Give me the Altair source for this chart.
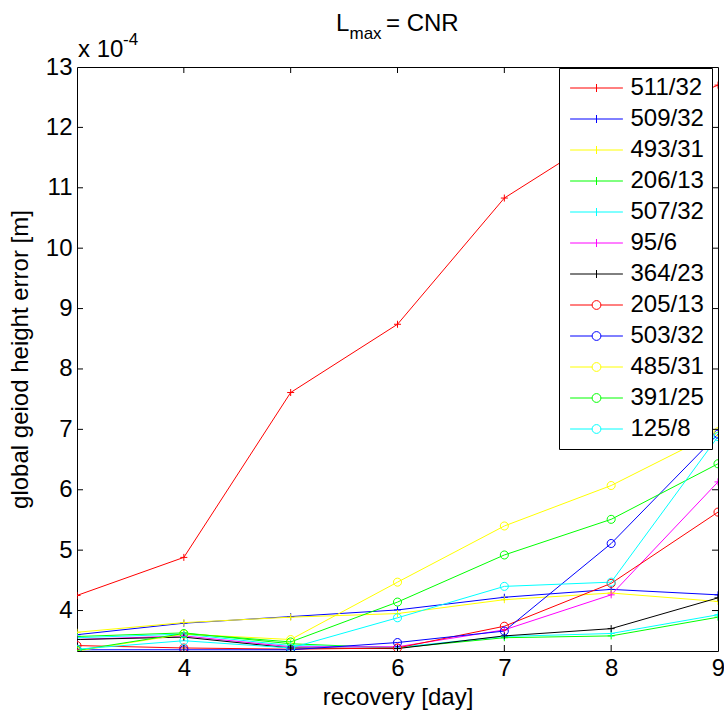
import altair as alt
import pandas as pd

# ---------------- data (values in units of 1e-4 m) ----------------
days = [3, 4, 5, 6, 7, 8, 9]
series_names = ["511/32", "509/32", "493/31", "206/13", "507/32", "95/6", "364/23",
                "205/13", "503/32", "485/31", "391/25", "125/8"]
series_colors = ["#ff0000", "#0000ff", "#ffff00", "#00ff00", "#00ffff", "#ff00ff", "#000000",
                 "#ff0000", "#0000ff", "#ffff00", "#00ff00", "#00ffff"]
series_markers = ["+", "+", "+", "+", "+", "+", "+", "o", "o", "o", "o", "o"]

s511_32 = [4.25, 4.88, 7.61, 8.74, 10.83, 11.95, 12.70]
s509_32 = [3.60, 3.79, 3.90, 4.01, 4.22, 4.35, 4.26]
s493_31 = [3.64, 3.80, 3.89, 3.95, 4.18, 4.29, 4.15]
s206_13 = [3.57, 3.63, 3.45, 3.38, 3.55, 3.58, 3.89]
s507_32 = [3.55, 3.61, 3.42, 3.39, 3.57, 3.62, 3.93]
s95_6 = [3.52, 3.58, 3.40, 3.40, 3.68, 4.26, 6.13]
s364_23 = [3.52, 3.56, 3.38, 3.37, 3.58, 3.70, 4.21]
s205_13 = [3.42, 3.38, 3.36, 3.38, 3.74, 4.45, 5.63]
s503_32 = [3.35, 3.35, 3.35, 3.47, 3.66, 5.11, 6.92]
s485_31 = [3.33, 3.61, 3.52, 4.47, 5.40, 6.07, 6.96]
s391_25 = [3.34, 3.62, 3.48, 4.14, 4.92, 5.51, 6.43]
s125_8 = [3.36, 3.50, 3.38, 3.88, 4.40, 4.47, 6.88]

all_values = [s511_32, s509_32, s493_31, s206_13, s507_32, s95_6, s364_23,
              s205_13, s503_32, s485_31, s391_25, s125_8]

x_tick_labels = [4, 5, 6, 7, 8, 9]
y_tick_labels = [4, 5, 6, 7, 8, 9, 10, 11, 12, 13]
x_inner_ticks = [4, 5, 6, 7, 8]
y_inner_ticks = [4, 5, 6, 7, 8, 9, 10, 11, 12]

rows = []
for name, vals in zip(series_names, all_values):
    for d, v in zip(days, vals):
        rows.append({"day": d, "err": v, "series": name})
df = pd.DataFrame(rows)

# legend-only rows (placed outside the domain, clipped away)
df_leg = pd.DataFrame({"series": series_names, "day": [50] * len(series_names),
                       "err": [50] * len(series_names)})

# ---------------- styling ----------------
FONT = "Liberation Sans"
FS = 24
W, H = 641, 584

plus_path = "M-1,0L1,0M0,-1L0,1"
circ_path = "M1.15,0A1.15,1.15,0,1,1,-1.15,0A1.15,1.15,0,1,1,1.15,0Z"
leg_plus = "M-3.3,0L3.3,0M0,-0.5L0,0.5"
leg_circ = ("M-3.3,0L-0.55,0M0.55,0L3.3,0"
            "M0.55,0A0.55,0.55,0,1,1,-0.55,0A0.55,0.55,0,1,1,0.55,0Z")

marker_paths = [plus_path if m == "+" else circ_path for m in series_markers]
legend_paths = [leg_plus if m == "+" else leg_circ for m in series_markers]

xscale = alt.Scale(domain=[3, 9], nice=False, zero=False)
yscale = alt.Scale(domain=[3.33, 13], nice=False, zero=False)

xaxis = alt.Axis(values=x_tick_labels, title="recovery [day]", grid=False, domain=False,
                 ticks=False, labelPadding=5, labelFont=FONT, labelFontSize=FS,
                 labelColor="black", titleFont=FONT, titleFontSize=FS,
                 titleFontWeight="normal", titleColor="black", titleY=46,
                 titleBaseline="middle", labelFlush=False)
yaxis = alt.Axis(values=y_tick_labels, title="global geiod height error [m]", grid=False,
                 domain=False, ticks=False, labelPadding=5, labelFont=FONT,
                 labelFontSize=FS, labelColor="black", titleFont=FONT, titleFontSize=FS,
                 titleFontWeight="normal", titleColor="black", titleX=-57, titleY=H / 2,
                 titleAngle=-90, titleAlign="center", titleBaseline="middle",
                 labelFlush=False)

X = alt.X("day:Q", scale=xscale, axis=xaxis)
Y = alt.Y("err:Q", scale=yscale, axis=yaxis)

cscale = alt.Scale(domain=series_names, range=series_colors)

lines = alt.Chart(df).mark_line(strokeWidth=1, clip=True).encode(
    x=X, y=Y,
    color=alt.Color("series:N", scale=cscale, legend=None),
)

points = alt.Chart(df).mark_point(filled=False, size=49, strokeWidth=1, opacity=1,
                                  clip=True).encode(
    x=X, y=Y,
    color=alt.Color("series:N", scale=cscale, legend=None),
    shape=alt.Shape("series:N", scale=alt.Scale(domain=series_names, range=marker_paths),
                    legend=None),
)

leg_kw = dict(title=None, orient="none", legendX=482, legendY=1, padding=8,
              symbolSize=256, symbolStrokeWidth=1, symbolOffset=17.5,
              symbolFillColor="transparent", labelOffset=22, rowPadding=7,
              labelFont=FONT, labelFontSize=FS, labelColor="black",
              strokeColor="black", fillColor="white", labelLimit=300)

legend_layer = alt.Chart(df_leg).mark_point(filled=False, size=256, strokeWidth=1,
                                            opacity=1, clip=True).encode(
    x=X, y=Y,
    color=alt.Color("series:N", scale=cscale, legend=alt.Legend(**leg_kw)),
    shape=alt.Shape("series:N", scale=alt.Scale(domain=series_names, range=legend_paths),
                    legend=alt.Legend(**leg_kw)),
)

# inward ticks on all four sides
dfx = pd.DataFrame({"day": x_inner_ticks})
dfy = pd.DataFrame({"err": y_inner_ticks})
tick_b = alt.Chart(dfx).mark_rule(color="black", strokeWidth=1).encode(
    x=X, y=alt.value(H), y2=alt.value(H - 6))
tick_t = alt.Chart(dfx).mark_rule(color="black", strokeWidth=1).encode(
    x=X, y=alt.value(0), y2=alt.value(6))
tick_l = alt.Chart(dfy).mark_rule(color="black", strokeWidth=1).encode(
    y=Y, x=alt.value(0), x2=alt.value(6))
tick_r = alt.Chart(dfy).mark_rule(color="black", strokeWidth=1).encode(
    y=Y, x=alt.value(W), x2=alt.value(W - 6))

# title "L_max = CNR" and exponent label "x 10^-4"
def txt(s, x, y, size=FS, align="left"):
    return alt.Chart(pd.DataFrame({"t": [s]})).mark_text(
        font=FONT, fontSize=size, color="black", align=align, baseline="alphabetic"
    ).encode(text="t:N", x=alt.value(x), y=alt.value(y))

title_L = txt("L", 259, -36)
title_max = txt("max", 272.5, -28, size=17)
title_rest = txt("= CNR", 309, -36)
exp_x = txt("x 10", 1, -10)
exp_p = txt("-4", 46, -22, size=17)

chart = alt.layer(
    lines, points, tick_b, tick_t, tick_l, tick_r, legend_layer,
    title_L, title_max, title_rest, exp_x, exp_p
).resolve_scale(
    color="independent", shape="independent"
).properties(
    width=W, height=H,
    padding={"left": 77, "top": 67, "right": 6, "bottom": 62},
    autosize=alt.AutoSizeParams(type="none"),
    background="white",
).configure_view(stroke="black", strokeWidth=1)

chart.save("out.html", embed_options={"renderer": "svg", "actions": False})
